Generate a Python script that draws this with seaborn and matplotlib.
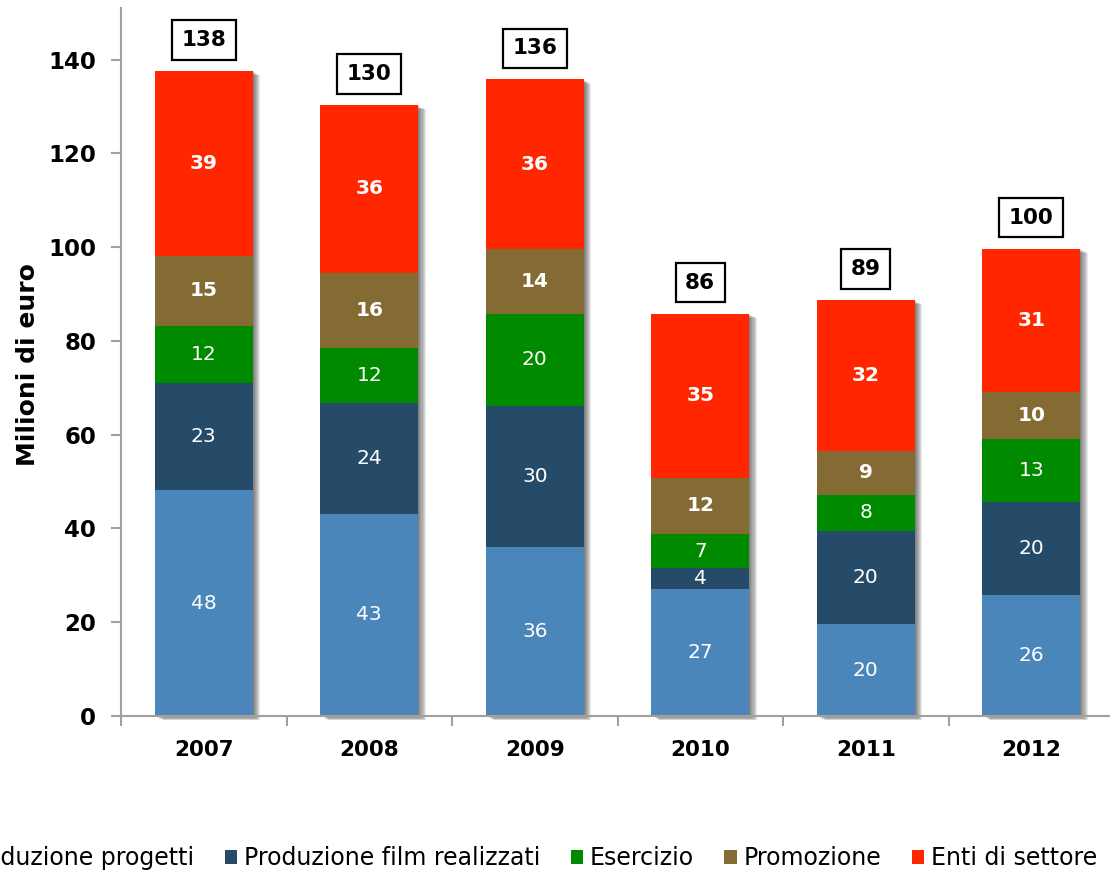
import matplotlib
matplotlib.use("Agg")
import matplotlib.pyplot as plt
import matplotlib.patheffects as pe
from matplotlib.patches import Patch
import seaborn as sns
import pandas as pd
import numpy as np

years = ["2007", "2008", "2009", "2010", "2011", "2012"]
series_names = ["Produzione progetti", "Produzione film realizzati", "Esercizio",
                "Promozione", "Enti di settore"]
produzione_progetti = [48.2, 43.1, 36.1, 27.1, 19.6, 25.8]
produzione_film = [22.9, 23.6, 30.1, 4.4, 19.9, 19.9]
esercizio = [12.1, 11.7, 19.6, 7.3, 7.7, 13.4]
promozione = [15.0, 16.1, 13.7, 12.0, 9.4, 9.9]
enti_settore = [39.4, 35.8, 36.3, 35.0, 32.1, 30.7]
y_ticks = [0, 20, 40, 60, 80, 100, 120, 140]

colors = ["#4A86B9", "#264B69", "#008A00", "#836B33", "#FF2600"]
label_bold = [False, False, False, True, True]

sns.set_theme(style="ticks")
plt.rcParams['font.family'] = ['DejaVu Sans']
plt.rcParams['text.color'] = 'black'

fig = plt.figure(figsize=(11.1, 8.74), dpi=100)
ax = fig.add_axes([121 / 1110, 158 / 874, 993 / 1110, 708 / 874])

series = [produzione_progetti, produzione_film, esercizio, promozione, enti_settore]
cum = np.cumsum(np.array(series), axis=0)
totals = cum[-1]

for k in range(len(series) - 1, -1, -1):
    df = pd.DataFrame({"year": years, "value": cum[k]})
    n_before = len(ax.patches)
    sns.barplot(data=df, x="year", y="value", color=colors[k], width=0.59,
                saturation=1, linewidth=0, errorbar=None, order=years, ax=ax)
    new = ax.patches[n_before:]
    if k == len(series) - 1:
        for p in new:
            effects = [pe.SimplePatchShadow(offset=(0.8 * j, -0.45 * j),
                                            shadow_rgbFace='black', alpha=0.09)
                       for j in range(1, 8)]
            p.set_path_effects(effects + [pe.Normal()])
            p.set_clip_on(False)

# segment labels
for k in range(len(series)):
    for i in range(len(years)):
        v = series[k][i]
        mid = cum[k][i] - v / 2
        ax.text(i, mid, f"{v:.0f}", ha='center', va='center', color='white',
                fontsize=14.5 if label_bold[k] else 14.5,
                fontweight='bold' if label_bold[k] else 'normal', zorder=5)

# totals
for i, t in enumerate(totals):
    ax.text(i, t + 6.6, f"{t:.0f}", ha='center', va='center', fontsize=15.5,
            fontweight='bold', color='black', zorder=5,
            bbox=dict(boxstyle='square,pad=0.45', fc='white', ec='black', lw=1.6))

ax.set_xlim(-0.5, 5.5)
ax.set_ylim(0, 151)
ax.set_yticks(y_ticks)
ax.set_yticklabels([str(v) for v in y_ticks], fontweight='bold', fontsize=16.5)
ax.set_xticks(range(len(years)))
ax.set_xticklabels(years, fontweight='bold', fontsize=15.5)
ax.set_xticks(np.arange(-0.5, len(years), 1), minor=True)
ax.tick_params(axis='x', which='major', length=0, pad=17, labelcolor='black')
ax.tick_params(axis='x', which='minor', length=7, width=1.5, color='#A0A0A0')
ax.tick_params(axis='y', which='major', length=7, width=1.5, color='#A0A0A0',
               pad=11, labelcolor='black')
ax.set_xlabel('')
ax.set_ylabel('Milioni di euro', fontsize=18, fontweight='bold', color='black')
ax.yaxis.set_label_coords(-0.082, 0.496)

for s in ['top', 'right']:
    ax.spines[s].set_visible(False)
for s in ['left', 'bottom']:
    ax.spines[s].set_color('#A0A0A0')
    ax.spines[s].set_linewidth(1.5)

handles = [Patch(facecolor=c, edgecolor='none') for c in colors]
fig.legend(handles, series_names, loc='center left', bbox_to_anchor=(-0.059, 0.018),
           ncol=5, frameon=False, fontsize=17, handlelength=0.53, handleheight=0.53,
           handletextpad=0.27, columnspacing=1.3, borderaxespad=0, borderpad=0.4,
           labelcolor='black')

fig.savefig('out.png', dpi=100)
